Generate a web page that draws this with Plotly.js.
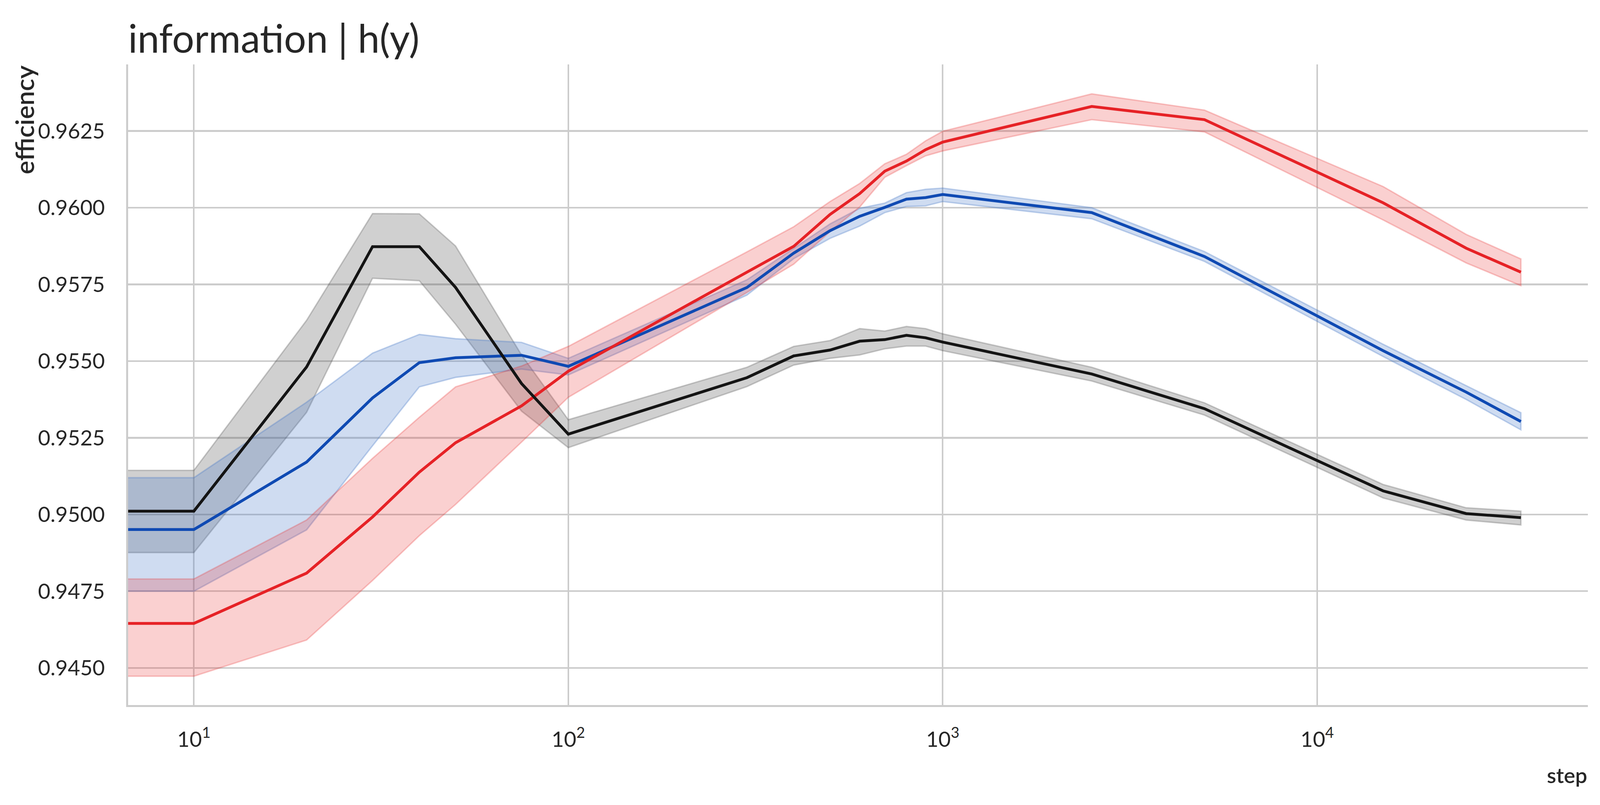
<!DOCTYPE html>
<html>
<head>
<meta charset="utf-8">
<script src="https://cdn.plot.ly/plotly-3.0.1.min.js"></script>
<style>
  html, body { margin: 0; padding: 0; background: #fff; overflow: hidden; }
  #chart { width: 100vw; height: 100vh; }
</style>
</head>
<body>
<div id="chart"></div>
<script>
// training steps (first point is the flat start that runs off the left edge)
var steps = [1, 10, 20, 30, 40, 50, 75, 100, 300, 400, 500, 600, 700, 800, 900, 1000, 2500, 5000, 15000, 25000, 35000];

var blackMean  = [0.95011, 0.95011, 0.95481, 0.95873, 0.95873, 0.95740, 0.95427, 0.95262, 0.95446, 0.95517, 0.95536, 0.95565, 0.95570, 0.95584, 0.95576, 0.95562, 0.95458, 0.95345, 0.95077, 0.95003, 0.94990];
var blackUpper = [0.95144, 0.95144, 0.95633, 0.95981, 0.95980, 0.95875, 0.95520, 0.95309, 0.95480, 0.95548, 0.95567, 0.95606, 0.95598, 0.95613, 0.95606, 0.95589, 0.95480, 0.95364, 0.95098, 0.95022, 0.95011];
var blackLower = [0.94876, 0.94876, 0.95333, 0.95770, 0.95762, 0.95620, 0.95337, 0.95218, 0.95417, 0.95487, 0.95509, 0.95520, 0.95540, 0.95549, 0.95549, 0.95534, 0.95435, 0.95324, 0.95054, 0.94982, 0.94966];

var blueMean  = [0.94951, 0.94951, 0.95171, 0.95380, 0.95495, 0.95511, 0.95519, 0.95483, 0.95740, 0.95852, 0.95925, 0.95972, 0.96001, 0.96028, 0.96033, 0.96043, 0.95984, 0.95841, 0.95534, 0.95399, 0.95303];
var blueUpper = [0.95120, 0.95120, 0.95366, 0.95526, 0.95587, 0.95573, 0.95561, 0.95509, 0.95765, 0.95867, 0.95947, 0.95998, 0.96015, 0.96049, 0.96060, 0.96064, 0.96000, 0.95857, 0.95555, 0.95420, 0.95332];
var blueLower = [0.94750, 0.94750, 0.94950, 0.95224, 0.95416, 0.95447, 0.95474, 0.95455, 0.95715, 0.95834, 0.95900, 0.95940, 0.95984, 0.96004, 0.96006, 0.96020, 0.95964, 0.95825, 0.95515, 0.95375, 0.95276];

var redMean  = [0.94645, 0.94645, 0.94809, 0.94992, 0.95138, 0.95234, 0.95354, 0.95467, 0.95790, 0.95874, 0.95978, 0.96046, 0.96119, 0.96152, 0.96189, 0.96214, 0.96330, 0.96287, 0.96016, 0.95868, 0.95790];
var redUpper = [0.94790, 0.94790, 0.94982, 0.95183, 0.95317, 0.95416, 0.95484, 0.95548, 0.95856, 0.95938, 0.96020, 0.96079, 0.96143, 0.96174, 0.96218, 0.96249, 0.96371, 0.96318, 0.96069, 0.95913, 0.95833];
var redLower = [0.94473, 0.94473, 0.94591, 0.94785, 0.94931, 0.95033, 0.95236, 0.95382, 0.95724, 0.95816, 0.95922, 0.96002, 0.96099, 0.96137, 0.96169, 0.96185, 0.96287, 0.96247, 0.95960, 0.95820, 0.95746];

var yTicks = [0.9450, 0.9475, 0.9500, 0.9525, 0.9550, 0.9575, 0.9600, 0.9625];
var xTicks = [10, 100, 1000, 10000];
var xTickText = ['10<sup>1</sup>', '10<sup>2</sup>', '10<sup>3</sup>', '10<sup>4</sup>'];

// the reference is 4941 x 2062; scale to the real window size
var W = window.innerWidth, H = window.innerHeight;
var sx = W / 4941, sy = H / 2062;
var sf = Math.sqrt(sx * sy);

function band(upper, lower, fill, edge) {
  return {
    x: steps.concat(steps.slice().reverse()),
    y: upper.concat(lower.slice().reverse()),
    type: 'scatter',
    mode: 'lines',
    fill: 'toself',
    fillcolor: fill,
    line: {color: edge, width: 4 * sf},
    hoverinfo: 'skip',
    showlegend: false
  };
}

function meanLine(vals, color) {
  return {
    x: steps,
    y: vals,
    type: 'scatter',
    mode: 'lines',
    line: {color: color, width: 8 * sf},
    showlegend: false
  };
}

var data = [
  band(blackUpper, blackLower, 'rgba(60,60,60,0.24)', 'rgba(60,60,60,0.25)'),
  band(blueUpper, blueLower, 'rgba(70,120,200,0.26)', 'rgba(70,120,200,0.32)'),
  band(redUpper, redLower, 'rgba(230,40,40,0.22)', 'rgba(230,40,40,0.25)'),
  meanLine(blueMean, '#0f4ab3'),
  meanLine(redMean, '#e62226'),
  meanLine(blackMean, '#141414')
];

var font = 'Lato, "Noto Sans", "DejaVu Sans", sans-serif';

var layout = {
  width: W,
  height: H,
  paper_bgcolor: '#ffffff',
  plot_bgcolor: '#ffffff',
  margin: {l: 396 * sx, r: 37 * sx, t: 165 * sy, b: 256 * sy},
  font: {family: font, color: '#262626'},
  title: {
    text: 'information | h(y)',
    font: {family: font, size: 110 * sf, color: '#262626'},
    x: 0, xref: 'paper', xanchor: 'left',
    y: 1, yref: 'paper', yanchor: 'bottom',
    pad: {b: 30 * sy}
  },
  xaxis: {
    type: 'log',
    range: [0.8244, 4.723],
    tickvals: xTicks,
    ticktext: xTickText,
    tickfont: {size: 60 * sf, color: '#262626'},
    ticks: 'outside',
    ticklen: 36 * sy,
    tickcolor: 'rgba(0,0,0,0)',
    showgrid: true,
    gridcolor: '#cccccc',
    gridwidth: 4.5 * sf,
    showline: true,
    linecolor: '#cccccc',
    linewidth: 6 * sf,
    zeroline: false
  },
  yaxis: {
    range: [0.94379, 0.96467],
    tickvals: yTicks,
    tickformat: '.4f',
    tickfont: {size: 60 * sf, color: '#262626'},
    ticks: 'outside',
    ticklen: 52 * sx,
    tickcolor: 'rgba(0,0,0,0)',
    showgrid: true,
    gridcolor: '#cccccc',
    gridwidth: 4.5 * sf,
    showline: true,
    linecolor: '#cccccc',
    linewidth: 6 * sf,
    zeroline: false
  },
  annotations: [
    {
      text: 'efficiency',
      xref: 'paper', yref: 'paper',
      x: -0.0712, y: 1,
      xanchor: 'center', yanchor: 'top',
      textangle: -90,
      showarrow: false,
      font: {family: font, size: 72 * sf, color: '#262626', weight: 600}
    },
    {
      text: 'step',
      xref: 'paper', yref: 'paper',
      x: 1, y: -0.088,
      xanchor: 'right', yanchor: 'top',
      showarrow: false,
      font: {family: font, size: 60 * sf, color: '#262626', weight: 600}
    }
  ]
};

Plotly.newPlot('chart', data, layout, {staticPlot: true});
</script>
</body>
</html>
